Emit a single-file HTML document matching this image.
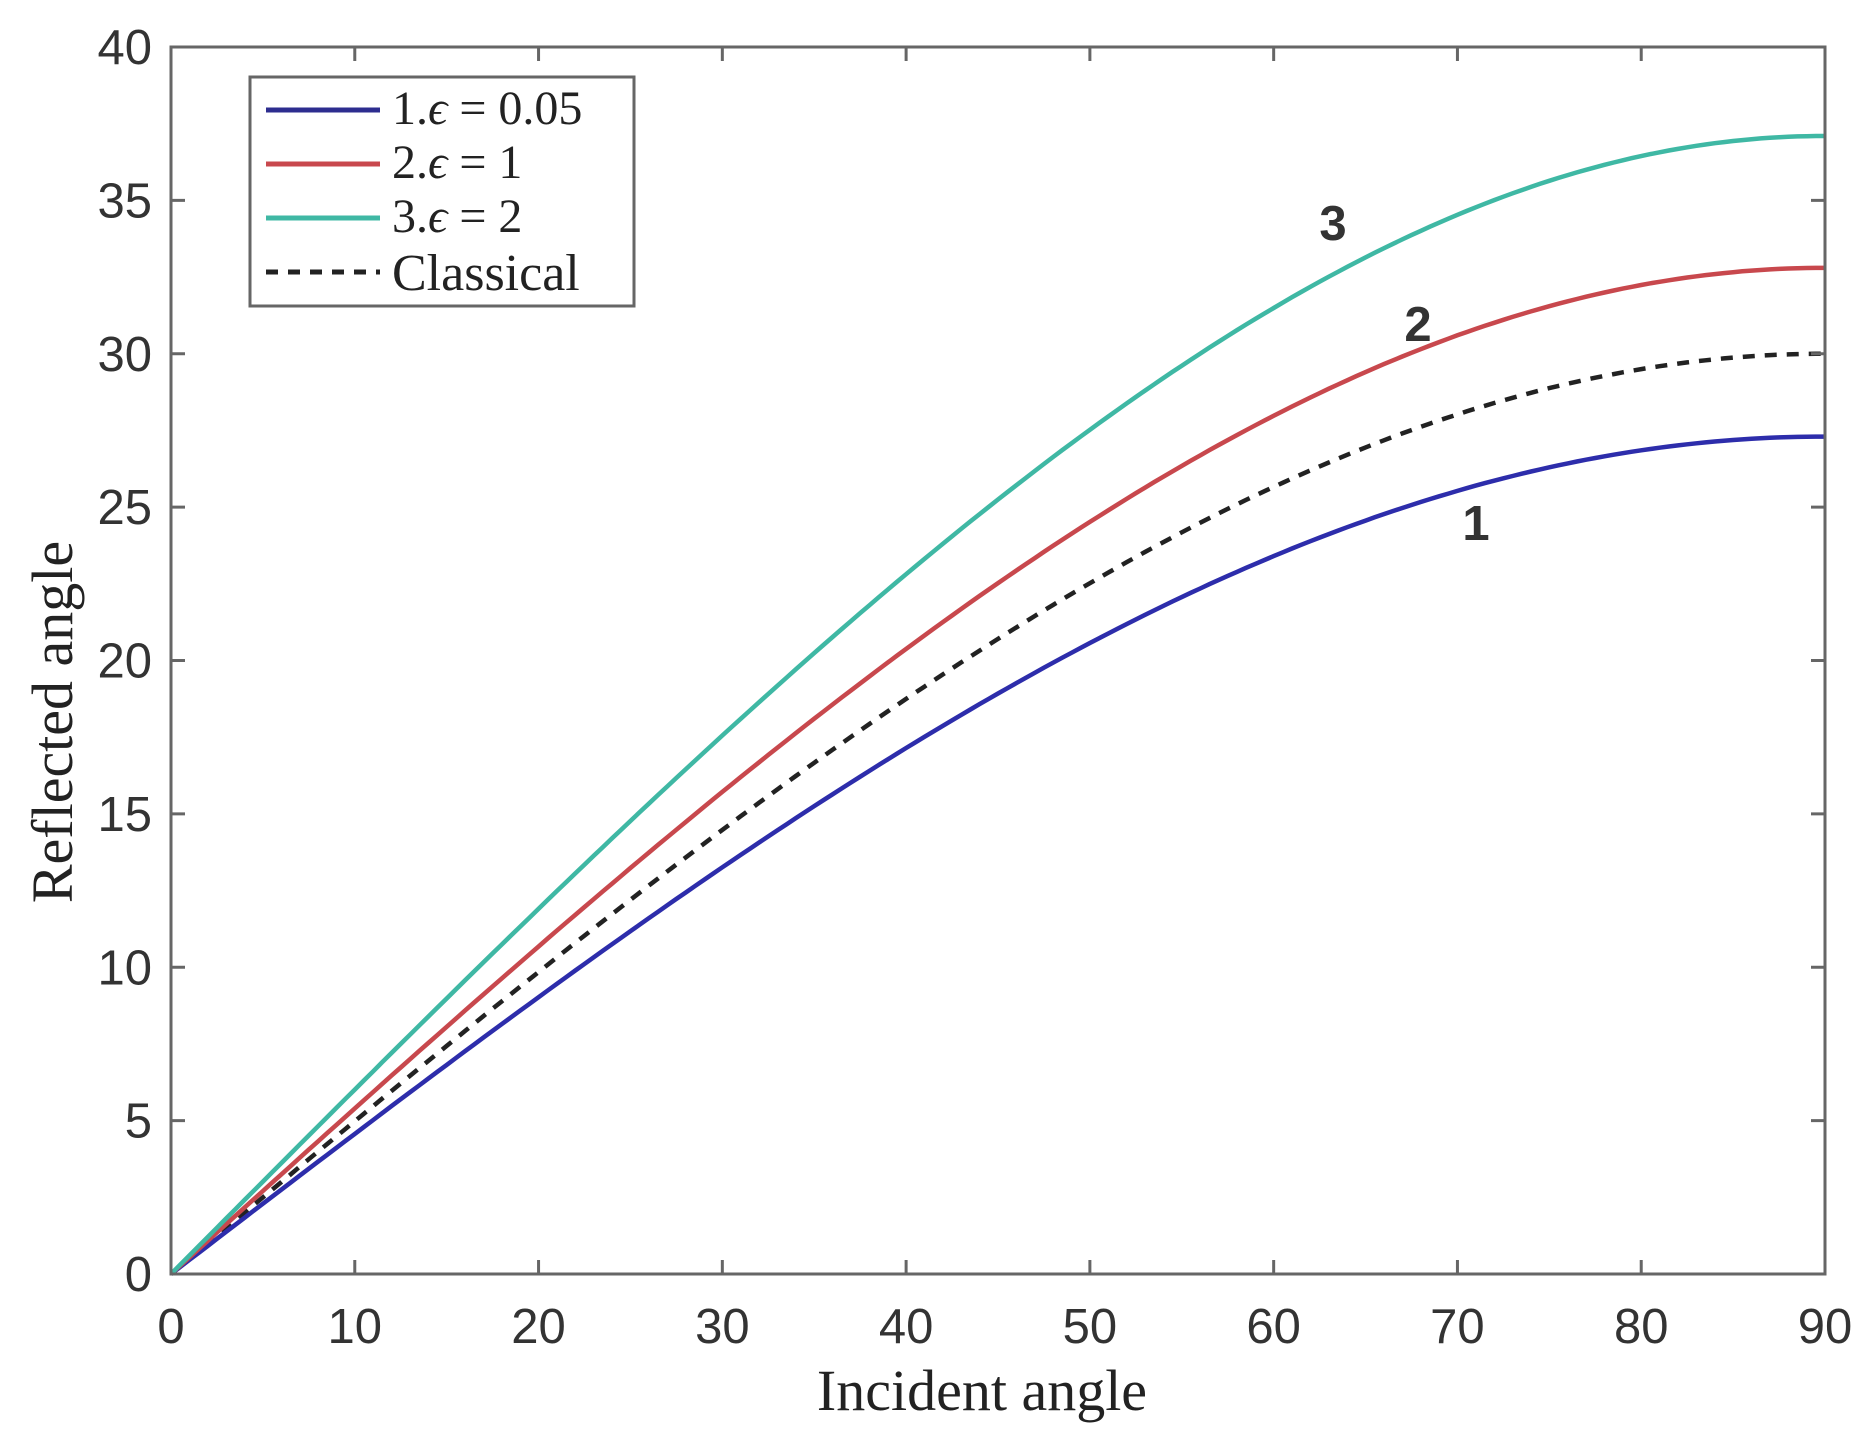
<!DOCTYPE html>
<html><head><meta charset="utf-8"><style>
html,body{margin:0;padding:0;background:#fff;}
svg{display:block;}
.tk{font-family:"Liberation Sans",sans-serif;font-size:49px;fill:#333;}
.sf{font-family:"Liberation Serif",serif;fill:#222;}
</style></head><body>
<svg id="s" width="1866" height="1448" viewBox="0 0 1866 1448" xmlns="http://www.w3.org/2000/svg">
<rect width="1866" height="1448" fill="#fff"/>
<g id="curves" fill="none" stroke-width="4.5"></g>
<rect x="171" y="47" width="1654" height="1227" fill="none" stroke="#666" stroke-width="3"/>
<g id="ticks" stroke="#666" stroke-width="3"></g>
<g id="labels"></g>
<text class="sf" x="982" y="1410" font-size="58" text-anchor="middle">Incident angle</text>
<text class="sf" font-size="58" text-anchor="middle" transform="translate(72,722) rotate(-90)">Reflected angle</text>
<text class="tk" x="1333" y="240" text-anchor="middle" font-weight="bold" font-size="44">3</text>
<text class="tk" x="1418" y="341" text-anchor="middle" font-weight="bold" font-size="44">2</text>
<text class="tk" x="1476" y="540" text-anchor="middle" font-weight="bold" font-size="44">1</text>
<rect x="250" y="77" width="384" height="229" fill="#fff" stroke="#666" stroke-width="3"/>
<line x1="266" y1="110" x2="380" y2="110" stroke="#2d2d8f" stroke-width="5"/>
<line x1="266" y1="164" x2="380" y2="164" stroke="#c8484d" stroke-width="5"/>
<line x1="266" y1="218" x2="380" y2="218" stroke="#3fb8a4" stroke-width="5"/>
<line x1="266" y1="272" x2="380" y2="272" stroke="#222" stroke-width="5" stroke-dasharray="12,10"/>
<text class="sf" x="392" y="124" font-size="48">1.<tspan font-style="italic">ϵ</tspan> = 0.05</text>
<text class="sf" x="392" y="178" font-size="48">2.<tspan font-style="italic">ϵ</tspan> = 1</text>
<text class="sf" x="392" y="232" font-size="48">3.<tspan font-style="italic">ϵ</tspan> = 2</text>
<text class="sf" x="392" y="290" font-size="52">Classical</text>
</svg>
<script>
var NS="http://www.w3.org/2000/svg";
function X(v){return 171+v*1654/90;}
function Y(v){return 1274-v*1227/40;}
function el(t,a,p){var e=document.createElementNS(NS,t);for(var k in a)e.setAttribute(k,a[k]);p.appendChild(e);return e;}
var cv=document.getElementById('curves');
var ser=[[1/Math.sin(30*Math.PI/180),"#222","12,10"],[1/Math.sin(27.3*Math.PI/180),"#2d2dab",""],[1/Math.sin(32.8*Math.PI/180),"#c8484d",""],[1/Math.sin(37.1*Math.PI/180),"#3fb8a4",""]];
ser.forEach(function(s){var d="";for(var i=0;i<=180;i++){var t=i*0.5,r=Math.asin(Math.sin(t*Math.PI/180)/s[0])*180/Math.PI;d+=(i?"L":"M")+X(t).toFixed(1)+" "+Y(r).toFixed(1);}
var a={d:d,stroke:s[1]};if(s[2])a["stroke-dasharray"]=s[2];el("path",a,cv);});
var tk=document.getElementById('ticks'),lb=document.getElementById('labels');
for(var i=0;i<=9;i++){var x=X(i*10);
 if(i>0&&i<9){el("line",{x1:x,y1:1274,x2:x,y2:1260},tk);el("line",{x1:x,y1:47,x2:x,y2:61},tk);}
 var t=el("text",{x:x,y:1343,"class":"tk","text-anchor":"middle"},lb);t.textContent=i*10;}
for(var j=0;j<=8;j++){var y=Y(j*5);
 if(j>0&&j<8){el("line",{x1:171,y1:y,x2:185,y2:y},tk);el("line",{x1:1825,y1:y,x2:1811,y2:y},tk);}
 var t=el("text",{x:152,y:y+17,"class":"tk","text-anchor":"end"},lb);t.textContent=j*5;}
</script>
</body></html>
